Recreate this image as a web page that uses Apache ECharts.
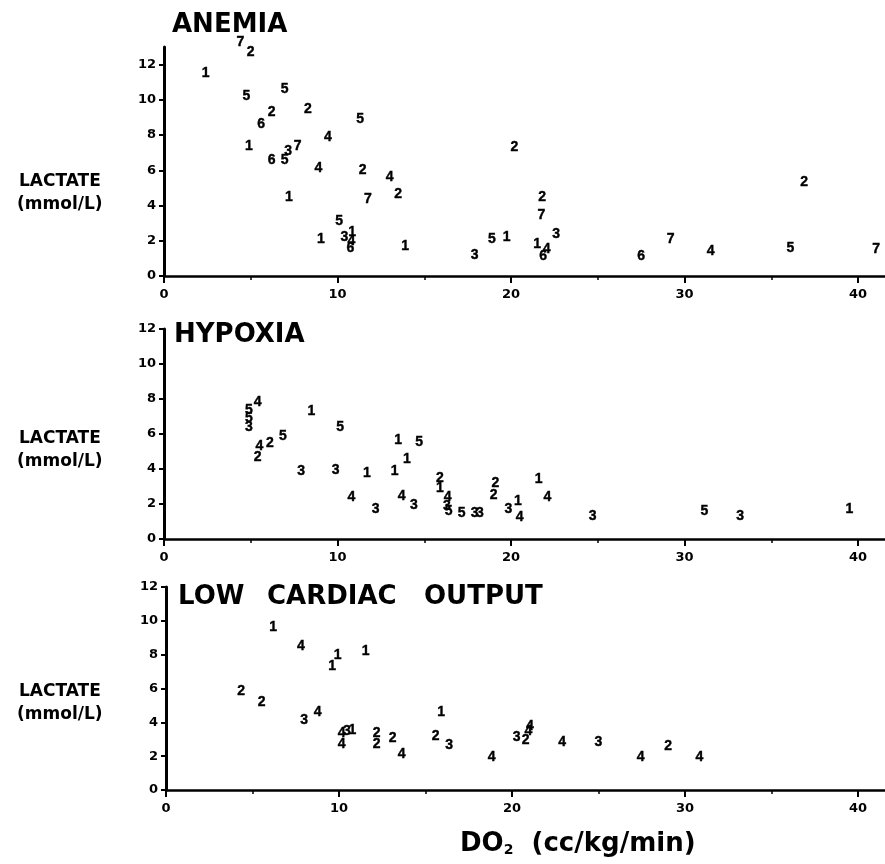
<!DOCTYPE html>
<html>
<head>
<meta charset="utf-8">
<title>Lactate vs DO2</title>
<script src="https://cdn.jsdelivr.net/npm/echarts@6.0.0/dist/echarts.min.js"></script>
<style>
  html, body { margin: 0; padding: 0; background: #fff; }
  #chart { width: 885px; height: 864px; }
</style>
</head>
<body>
<div id="chart"></div>
<script>
// [DO2, lactate, patient number]
const anemiaPoints = [
  [4.4, 13.3, '7'], [5.0, 12.7, '2'], [2.4, 11.5, '1'], [4.75, 10.2, '5'], [6.95, 10.6, '5'],
  [6.2, 9.3, '2'], [5.6, 8.6, '6'], [8.3, 9.5, '2'], [11.3, 8.9, '5'], [9.45, 7.9, '4'],
  [4.9, 7.35, '1'], [6.2, 6.6, '6'], [6.95, 6.6, '5'], [7.15, 7.1, '3'], [7.7, 7.35, '7'],
  [8.9, 6.1, '4'], [11.45, 6.0, '2'], [13.0, 5.6, '4'], [13.5, 4.65, '2'], [11.75, 4.35, '7'],
  [7.2, 4.5, '1'], [10.1, 3.1, '5'], [9.05, 2.1, '1'], [10.4, 2.2, '3'], [10.85, 2.5, '1'],
  [10.8, 2.0, '4'], [10.75, 1.6, '6'], [13.9, 1.7, '1'], [20.2, 7.3, '2'], [21.8, 4.45, '2'],
  [21.75, 3.45, '7'], [18.9, 2.1, '5'], [19.75, 2.2, '1'], [17.9, 1.2, '3'], [22.6, 2.35, '3'],
  [21.5, 1.8, '1'], [22.05, 1.55, '4'], [21.85, 1.1, '6'], [27.5, 1.1, '6'], [29.2, 2.1, '7'],
  [31.5, 1.4, '4'], [36.1, 1.6, '5'], [36.9, 5.35, '2'], [41.05, 1.5, '7']
]

const hypoxiaPoints = [
  [4.9, 7.35, '5'], [5.4, 7.8, '4'], [4.9, 6.9, '5'], [4.9, 6.4, '3'], [5.5, 5.3, '4'],
  [5.4, 4.7, '2'], [6.1, 5.5, '2'], [6.85, 5.9, '5'], [8.5, 7.3, '1'], [10.15, 6.4, '5'],
  [7.9, 3.9, '3'], [9.9, 3.95, '3'], [11.7, 3.75, '1'], [13.3, 3.85, '1'], [10.8, 2.4, '4'],
  [12.2, 1.7, '3'], [13.5, 5.65, '1'], [14.7, 5.55, '5'], [14.0, 4.55, '1'], [13.7, 2.45, '4'],
  [14.4, 1.95, '3'], [15.9, 3.5, '2'], [15.9, 2.9, '1'], [16.35, 2.4, '4'], [16.3, 1.9, '3'],
  [16.4, 1.6, '5'], [17.15, 1.5, '5'], [17.9, 1.5, '3'], [18.2, 1.5, '3'], [19.1, 3.2, '2'],
  [19.0, 2.5, '2'], [19.85, 1.7, '3'], [20.4, 2.15, '1'], [20.5, 1.25, '4'], [21.6, 3.4, '1'],
  [22.1, 2.4, '4'], [24.7, 1.3, '3'], [31.15, 1.6, '5'], [33.2, 1.3, '3'], [39.5, 1.7, '1']
]

const lowOutputPoints = [
  [6.2, 9.63, '1'], [7.8, 8.48, '4'], [9.92, 7.95, '1'], [9.61, 7.34, '1'], [11.54, 8.22, '1'],
  [4.34, 5.86, '2'], [5.53, 5.19, '2'], [7.99, 4.14, '3'], [8.77, 4.6, '4'], [10.16, 3.39, '4'],
  [10.45, 3.45, '3'], [10.77, 3.55, '1'], [10.16, 2.72, '4'], [12.18, 3.39, '2'], [12.18, 2.72, '2'],
  [13.1, 3.08, '2'], [13.62, 2.13, '4'], [15.9, 4.6, '1'], [15.59, 3.2, '2'], [16.36, 2.66, '3'],
  [18.83, 1.93, '4'], [20.27, 3.15, '3'], [20.79, 2.96, '2'], [21.04, 3.75, '4'], [20.95, 3.45, '4'],
  [22.9, 2.82, '4'], [24.99, 2.82, '3'], [27.44, 1.97, '4'], [29.03, 2.6, '2'], [30.83, 1.97, '4']
]

const xTickLabels = [0, 10, 20, 30, 40]
const yTickLabels = [0, 2, 4, 6, 8, 10, 12]
const panelTitles = ['ANEMIA', 'HYPOXIA', 'LOW', 'CARDIAC', 'OUTPUT']

const chart = echarts.init(document.getElementById('chart'))

const FONT = 'DejaVu Sans'
const grids = [
  { left: 164, top: 47, width: 721, height: 229 },
  { left: 164, top: 329, width: 721, height: 210 },
  { left: 166, top: 587, width: 719, height: 203 }
]
const yMax = [13, 12, 12]

function makeXAxis(i) {
  return {
    type: 'value',
    gridIndex: i,
    min: 0,
    max: grids[i].width / (i === 2 ? 17.3 : 17.35),
    interval: 10,
    axisLine: { lineStyle: { color: '#000', width: 2.5 } },
    axisTick: { length: 7, customValues: xTickLabels, lineStyle: { color: '#000', width: 2 } },
    minorTick: { show: true, splitNumber: 2, length: 4, lineStyle: { color: '#000', width: 1.5 } },
    splitLine: { show: false },
    axisLabel: {
      customValues: xTickLabels,
      margin: 12,
      color: '#000',
      fontFamily: FONT,
      fontWeight: 'bold',
      fontSize: 13
    }
  }
}

function makeYAxis(i) {
  return {
    type: 'value',
    gridIndex: i,
    min: 0,
    max: yMax[i],
    interval: 2,
    axisLine: { show: true, lineStyle: { color: '#000', width: 3 } },
    axisTick: { show: true, length: 5, customValues: yTickLabels, lineStyle: { color: '#000', width: 2 } },
    splitLine: { show: false },
    axisLabel: {
      customValues: yTickLabels,
      margin: 8,
      color: '#000',
      fontFamily: FONT,
      fontWeight: 'bold',
      fontSize: 13
    }
  }
}

function makeSeries(data, i) {
  return {
    type: 'scatter',
    xAxisIndex: i,
    yAxisIndex: i,
    data: data,
    symbolSize: 1,
    clip: false,
    silent: true,
    // scatter defaults to opacity 0.8, which greys the labels
    itemStyle: { color: 'rgba(0,0,0,0)', opacity: 1 },
    label: {
      show: true,
      position: 'inside',
      formatter: p => p.data[2],
      color: '#000',
      textBorderColor: '#000',
      textBorderWidth: 0.4,
      fontFamily: 'Liberation Sans',
      fontWeight: 'bold',
      fontSize: 14
    }
  }
}

const bigTitle = { fontFamily: FONT, fontWeight: 'bold', fontSize: 26, color: '#000' }
const sideTitle = { fontFamily: FONT, fontWeight: 'bold', fontSize: 17, color: '#000' }

const titles = [
  { text: panelTitles[0], left: 172, top: 12, textStyle: bigTitle },
  { text: panelTitles[1], left: 174, top: 322, textStyle: bigTitle },
  { text: panelTitles[2], left: 178, top: 584, textStyle: bigTitle },
  { text: panelTitles[3], left: 267, top: 584, textStyle: bigTitle },
  { text: panelTitles[4], left: 424, top: 584, textStyle: bigTitle }
]
const lactateTops = [173, 430, 683]
lactateTops.forEach(t => {
  titles.push({ text: 'LACTATE', left: 19, top: t, textStyle: sideTitle })
  titles.push({ text: '(mmol/L)', left: 17, top: t + 23, textStyle: sideTitle })
})
titles.push({
  text: '{a|DO}{b|2}{a|  (cc/kg/min)}',
  left: 460,
  top: 831,
  textStyle: {
    rich: {
      a: { fontFamily: FONT, fontWeight: 'bold', fontSize: 26, color: '#000' },
      b: { fontFamily: FONT, fontWeight: 'bold', fontSize: 14, color: '#000', verticalAlign: 'bottom', padding: [12, 0, 0, 0] }
    }
  }
})
titles.forEach(t => { t.padding = 0 })

const option = {
  backgroundColor: '#fff',
  animation: false,
  title: titles,
  grid: grids,
  xAxis: [0, 1, 2].map(makeXAxis),
  yAxis: [0, 1, 2].map(makeYAxis),
  series: [
    makeSeries(anemiaPoints, 0),
    makeSeries(hypoxiaPoints, 1),
    makeSeries(lowOutputPoints, 2)
  ]
}

chart.setOption(option)
</script>
</body>
</html>
